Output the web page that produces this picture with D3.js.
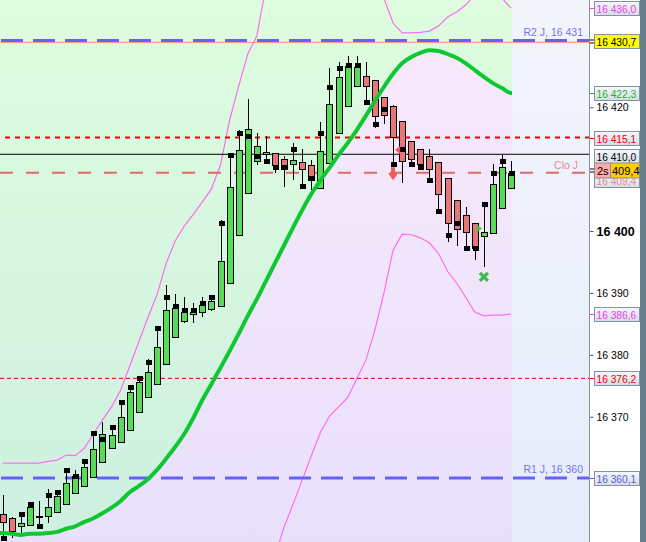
<!DOCTYPE html>
<html>
<head>
<meta charset="utf-8">
<title>Intraday candles</title>
<script src="https://d3js.org/d3.v7.min.js"></script>
<style>
  body { margin: 0; background: #ffffff; }
  svg { display: block; font-family: "Liberation Sans", Arial, sans-serif; }
</style>
</head>
<body>
<svg id="chart" width="646" height="542"></svg>
<script>
// ---- data ----
var candleOpen = [16354.3, 16353.6, 16352.3, 16352.5, 16353.9, 16354.0, 16354.6, 16355.9, 16357.7, 16358.8,
  16360.3, 16362.7, 16364.9, 16365.9, 16367.9, 16370.8, 16373.2, 16375.3, 16378.4, 16382.9,
  16385.5, 16386.6, 16386.8, 16387.4, 16388.0, 16391.6, 16399.4, 16406.1, 16411.3, 16412.4,
  16412.6, 16411.6, 16410.8, 16411.1, 16410.7, 16406.9, 16411.0, 16415.8, 16420.2, 16423.4,
  16425.0, 16424.4, 16421.6, 16420.2, 16417.8, 16414.5, 16413.2, 16412.1, 16411.1, 16408.6,
  16405.0, 16402.6, 16401.3, 16399.2, 16399.7, 16403.7, 16406.9];
var candleHigh = [16357.4, 16353.8, 16354.4, 16356.2, 16356.4, 16358.3, 16358.0, 16361.7, 16361.4, 16363.2,
  16367.5, 16369.1, 16368.7, 16372.7, 16375.1, 16376.6, 16379.3, 16384.5, 16391.3, 16389.8,
  16389.3, 16388.4, 16389.3, 16389.7, 16401.8, 16412.3, 16416.3, 16421.3, 16415.8, 16415.3,
  16412.6, 16412.1, 16414.2, 16413.2, 16411.5, 16417.6, 16426.3, 16427.3, 16428.3, 16428.3,
  16427.3, 16424.4, 16421.6, 16420.4, 16417.8, 16414.5, 16413.2, 16413.2, 16411.1, 16408.6,
  16405.0, 16403.9, 16401.3, 16404.4, 16410.8, 16412.3, 16411.3];
var candleLow = [16350.4, 16350.4, 16351.2, 16352.5, 16352.2, 16352.8, 16354.6, 16355.9, 16357.7, 16358.8,
  16360.3, 16362.7, 16364.9, 16365.9, 16367.9, 16370.8, 16373.2, 16375.3, 16378.4, 16382.9,
  16385.1, 16385.1, 16386.1, 16387.1, 16388.0, 16391.6, 16399.4, 16406.1, 16410.7, 16411.3,
  16409.4, 16407.1, 16408.2, 16407.3, 16406.6, 16406.9, 16411.0, 16415.8, 16420.2, 16423.4,
  16420.8, 16416.6, 16417.3, 16410.8, 16407.8, 16410.3, 16409.9, 16407.8, 16402.7, 16398.2,
  16397.6, 16397.3, 16395.3, 16394.2, 16399.7, 16403.7, 16406.9];
var candleClose = [16353.0, 16351.5, 16352.8, 16355.4, 16354.0, 16355.4, 16357.2, 16359.3, 16360.4, 16361.9,
  16364.8, 16367.2, 16367.0, 16370.0, 16374.0, 16375.6, 16377.2, 16381.3, 16387.2, 16387.6,
  16386.9, 16386.9, 16388.0, 16388.7, 16395.2, 16407.1, 16413.1, 16416.5, 16413.7, 16412.8,
  16410.7, 16410.0, 16411.5, 16410.0, 16408.2, 16412.9, 16420.5, 16424.9, 16426.7, 16426.5,
  16423.4, 16418.6, 16418.7, 16415.2, 16411.3, 16411.6, 16410.8, 16410.0, 16406.0, 16401.3,
  16400.3, 16399.8, 16397.3, 16399.8, 16407.6, 16410.3, 16409.4];
// black square markers (second indicator), null = none
var squareMarks = [16350.4, null, 16354.3, 16355.9, 16352.3, 16357.4, 16357.8, 16361.4, 16360.4, 16362.8,
  16367.4, 16366.4, 16368.3, 16372.4, 16374.8, 16376.3, 16378.8, 16384.3, 16389.3, 16387.9,
  16387.2, 16387.2, 16388.4, 16389.3, 16401.3, 16412.3, 16415.8, 16415.3, 16412.1, 16411.3,
  16410.3, 16410.3, 16413.2, 16407.3, 16408.6, 16415.8, 16423.3, 16426.3, 16426.8, 16426.8,
  16420.8, 16417.3, 16419.7, 16410.8, 16413.2, 16410.8, 16410.3, 16408.2, 16403.2, 16399.4,
  16401.3, 16397.3, 16397.3, 16404.4, 16409.4, 16411.3, 16409.4];
var maLine = [16351.2, 16351.1, 16350.9, 16351.1, 16351.1, 16351.2, 16351.4, 16351.9, 16352.3, 16353.0,
  16353.6, 16354.4, 16355.3, 16356.4, 16357.8, 16358.8, 16359.9, 16361.4, 16363.2, 16365.1,
  16367.2, 16369.8, 16372.7, 16375.3, 16377.9, 16380.6, 16383.4, 16386.3, 16389.0, 16391.9,
  16394.8, 16397.7, 16400.6, 16403.4, 16406.0, 16408.2, 16410.2, 16412.3, 16414.2, 16416.3,
  16418.6, 16421.0, 16423.3, 16425.4, 16427.1, 16428.1, 16428.8, 16429.2, 16429.1, 16428.6,
  16428.0, 16427.1, 16426.0, 16424.9, 16423.9, 16423.1, 16422.3];
var upperBand = [16362.5, 16362.5, 16362.5, 16362.5, 16362.5, 16362.8, 16363.0, 16363.8, 16363.7, 16364.9,
  16367.2, 16369.5, 16371.6, 16374.3, 16378.2, 16382.1, 16386.0, 16389.7, 16394.7, 16398.4,
  16400.8, 16402.7, 16404.7, 16406.8, 16410.7, 16417.9, 16423.4, 16428.6, 16431.5, 16439.5,
  16444.0, 16447.0, 16449.0, 16450.0, 16450.0, 16449.0, 16448.0, 16446.0, 16444.0, 16442.0,
  16440.5, 16439.0, 16437.6, 16433.6, 16432.0, 16432.0, 16432.1, 16432.3, 16433.1, 16434.6,
  16435.4, 16436.5, 16438.2, 16438.8, 16438.6, 16437.6, 16436.0];
var lowerBand = [16339.9, 16339.8, 16339.6, 16339.6, 16339.7, 16339.6, 16339.8, 16340.0, 16340.9, 16341.1,
  16340.0, 16339.3, 16339.0, 16338.5, 16337.4, 16335.5, 16333.8, 16333.1, 16331.7, 16331.8,
  16333.6, 16336.9, 16340.7, 16343.8, 16345.1, 16343.3, 16343.4, 16344.0, 16346.5, 16346.0,
  16347.5, 16352.2, 16355.9, 16359.8, 16363.7, 16367.5, 16370.1, 16371.6, 16373.1, 16376.1,
  16379.1, 16384.0, 16390.0, 16396.9, 16399.5, 16399.4, 16398.9, 16398.1, 16396.4, 16393.5,
  16391.6, 16389.3, 16386.9, 16386.3, 16386.4, 16386.4, 16386.6];

// signals: candle index + price
var sellArrow = { i: 43, v: 16410.3 };
var sellFlag = { i: 44, v: 16413.1 };
var buyFlag = { i: 53, v: 16400.4 };
var buyCross = { i: 53, v: 16392.6 };

// horizontal levels
var levelR2 = 16430.8, levelHigh = 16430.5, levelRed = 16415.1, levelBlack = 16412.4,
    levelClo = 16409.4, levelLowRed = 16376.2, levelR1 = 16360.1;

var tickValues = [16420, 16400, 16390, 16380, 16370];
var tagValues = [16436.0, 16430.7, 16422.3, 16415.1, 16410.0, 16409.4, 16386.6, 16376.2, 16360.1];
var lastPrice = 16409.4;

// ---- drawing ----
var W = 646, H = 542, axisX = 589.5, dataRight = 512;
var svg = d3.select("#chart");

var yScale = d3.scaleLinear().domain([16360.1, 16430.7]).range([478, 41]);
var xScale = d3.scaleLinear().domain([0, candleOpen.length - 1]).range([2.6, 511.1]);

var fr = d3.formatLocale({ decimal: ",", thousands: " ", grouping: [3], currency: ["", ""] });
var fmtTick = fr.format(",.0f"), fmtTag = fr.format(",.1f");

var defs = svg.append("defs");
function vGrad(id, top, bottom, user) {
  var g = defs.append("linearGradient").attr("id", id)
    .attr("x1", 0).attr("y1", 0).attr("x2", 0);
  if (user) g.attr("gradientUnits", "userSpaceOnUse").attr("y2", H);
  else g.attr("y2", 1);
  g.append("stop").attr("offset", "0%").attr("stop-color", top);
  g.append("stop").attr("offset", "100%").attr("stop-color", bottom);
}
vGrad("bgUp", "#defcde", "#cef0e1", true);
vGrad("bgDown", "#f9eafb", "#e9e0fc", true);
vGrad("bgFuture", "#f3f5fd", "#e6ecfa", true);
vGrad("tagBg", "#f6f8fb", "#d5dce6", false);

defs.append("clipPath").attr("id", "plotClip")
  .append("rect").attr("x", 0).attr("y", 0).attr("width", axisX).attr("height", H);

svg.append("rect").attr("width", W).attr("height", H).attr("fill", "#ffffff");

var plot = svg.append("g").attr("clip-path", "url(#plotClip)");

// background split by the moving average
var maPts = [{ x: 0, v: maLine[0] }].concat(maLine.map(function(v, i) {
  return { x: xScale(i), v: v };
}));
maPts.push({ x: dataRight, v: maLine[maLine.length - 1] });

plot.append("path").datum(maPts)
  .attr("fill", "url(#bgDown)")
  .attr("d", d3.area().curve(d3.curveMonotoneX)
    .x(function(d) { return d.x; })
    .y0(function(d) { return yScale(d.v); }).y1(H));
plot.append("path").datum(maPts)
  .attr("fill", "url(#bgUp)")
  .attr("d", d3.area().curve(d3.curveMonotoneX)
    .x(function(d) { return d.x; })
    .y0(0).y1(function(d) { return yScale(d.v); }));
plot.append("rect").attr("x", dataRight).attr("y", 0)
  .attr("width", axisX - dataRight).attr("height", H).attr("fill", "url(#bgFuture)");

// bands
var bandLine = d3.line().x(function(d, i) { return xScale(i); }).y(function(d) { return yScale(d); });
[upperBand, lowerBand].forEach(function(b) {
  plot.append("path").datum(b).attr("d", bandLine)
    .attr("fill", "none").attr("stroke", "#ff6cf2").attr("stroke-width", 1.2);
});

// horizontal levels
function hLine(v, color, width, dash, offset, x1) {
  var y = yScale(v);
  plot.append("line").attr("x1", x1 || 0).attr("x2", axisX)
    .attr("y1", y).attr("y2", y)
    .attr("stroke", color).attr("stroke-width", width)
    .attr("stroke-dasharray", dash || null)
    .attr("stroke-dashoffset", offset || 0);
}
hLine(levelHigh, "#ff8c7c", 1);
hLine(levelR2, "#6464f4", 3, "22,10", 0, 1);
hLine(levelRed, "#ee0000", 2, "5,5", 5);
hLine(levelBlack, "#000000", 1);
hLine(levelClo, "#e06a6a", 2, "13,13", 0);
hLine(levelLowRed, "#e00000", 1, "4,3", 0);
hLine(levelR1, "#6464f4", 3, "22,10", 0, 1);

plot.append("text").attr("x", 583).attr("y", yScale(levelR2) - 4).attr("text-anchor", "end")
  .attr("font-size", 10.5).attr("fill", "#7474ec").text("R2 J, 16 431");
plot.append("text").attr("x", 583).attr("y", yScale(levelR1) - 5).attr("text-anchor", "end")
  .attr("font-size", 10.5).attr("fill", "#7474ec").text("R1 J, 16 360");
plot.append("text").attr("x", 578).attr("y", yScale(levelClo) - 4).attr("text-anchor", "end")
  .attr("font-size", 10.5).attr("fill", "#ec8a8a").text("Clo J");

// candles
var candles = plot.append("g").attr("shape-rendering", "crispEdges");
candleOpen.forEach(function(o, i) {
  var c = candleClose[i];
  var cx = Math.round(xScale(i));
  candles.append("line")
    .attr("x1", cx + 0.5).attr("x2", cx + 0.5)
    .attr("y1", yScale(candleHigh[i])).attr("y2", yScale(candleLow[i]))
    .attr("stroke", "#000").attr("stroke-width", 1);
  var top = yScale(Math.max(o, c)), bot = yScale(Math.min(o, c));
  candles.append("rect")
    .attr("x", cx - 2.5).attr("y", Math.round(top) + 0.5)
    .attr("width", 6).attr("height", Math.max(1, Math.round(bot - top)))
    .attr("fill", c >= o ? "#56dc56" : "#e87676")
    .attr("stroke", "#000").attr("stroke-width", 1);
});
squareMarks.forEach(function(v, i) {
  if (v === null) return;
  var cx = Math.round(xScale(i));
  candles.append("rect")
    .attr("x", cx - 2).attr("y", Math.round(yScale(v)) - 2)
    .attr("width", 6).attr("height", 5).attr("fill", "#000");
});

// moving average
plot.append("path").datum(maPts)
  .attr("fill", "none").attr("stroke", "#0ec832").attr("stroke-width", 4)
  .attr("stroke-linejoin", "round")
  .attr("d", d3.line().curve(d3.curveMonotoneX)
    .x(function(d) { return d.x; }).y(function(d) { return yScale(d.v); }));

// signals
var ax = xScale(sellArrow.i), ay = yScale(sellArrow.v);
plot.append("path").attr("fill", "#ee5a5a")
  .attr("d", "M" + (ax - 2) + "," + ay + "h4v6h3l-5,7l-5,-7h3z");
var fx = xScale(sellFlag.i), fy = yScale(sellFlag.v);
plot.append("path").attr("fill", "#ee5a5a")
  .attr("d", "M" + (fx - 7) + "," + fy + "l5,-4v8z");
var bx = xScale(buyFlag.i), by = yScale(buyFlag.v);
plot.append("path").attr("fill", "#3cc83c")
  .attr("d", "M" + (bx - 2) + "," + by + "l-5,-4v8z");
var kx = xScale(buyCross.i), ky = yScale(buyCross.v);
plot.append("path").attr("stroke", "#3cba50").attr("stroke-width", 3.2).attr("fill", "none")
  .attr("d", "M" + (kx - 4) + "," + (ky - 4) + "l8,8M" + (kx + 4) + "," + (ky - 4) + "l-8,8");

// right axis
var axisG = svg.append("g").attr("transform", "translate(" + axisX + ",0)")
  .call(d3.axisRight(yScale).tickValues(tickValues).tickSize(4).tickPadding(3).tickFormat(fmtTick));
axisG.select(".domain").remove();
axisG.selectAll(".tick line").attr("stroke", "#556");
axisG.selectAll(".tick text").attr("fill", "#000")
  .attr("font-family", "Liberation Sans, Arial, sans-serif")
  .attr("font-weight", function(d) { return d === 16400 ? "bold" : null; })
  .attr("font-size", function(d) { return d === 16400 ? 12.5 : 10.5; });
svg.append("line").attr("x1", axisX).attr("x2", axisX).attr("y1", 0).attr("y2", H)
  .attr("stroke", "#8494a0").attr("stroke-width", 1);
svg.append("rect").attr("x", 640).attr("y", 0).attr("width", 6).attr("height", H).attr("fill", "#687c89");

// price tags
var tagStyle = [
  { color: "#ee3cee", bg: "url(#tagBg)", dy: 0, tick: "#ee3cee" },
  { color: "#000000", bg: "#ffff00", dy: 0, tick: "#000", dbl: true },
  { color: "#16b816", bg: "url(#tagBg)", dy: 0, tick: "#16b816" },
  { color: "#ee0000", bg: "url(#tagBg)", dy: 0, tick: "#ee0000" },
  { color: "#000000", bg: "url(#tagBg)", dy: -13, tick: null },
  { color: "#ec8a8a", bg: "url(#tagBg)", dy: 7, tick: null },
  { color: "#ee3cee", bg: "url(#tagBg)", dy: 0, tick: "#ee3cee" },
  { color: "#ee0000", bg: "url(#tagBg)", dy: 0, tick: "#ee0000" },
  { color: "#5a5ae0", bg: "url(#tagBg)", dy: 0, tick: "#5a5ae0" }
];
var tags = svg.append("g");
tagValues.forEach(function(v, k) {
  var s = tagStyle[k];
  var cy = Math.round(yScale(v) + s.dy) + 0.5;
  if (s.tick) {
    if (s.dbl) {
      tags.append("line").attr("x1", 590).attr("x2", 594).attr("y1", cy - 1.5).attr("y2", cy - 1.5).attr("stroke", s.tick);
      tags.append("line").attr("x1", 590).attr("x2", 594).attr("y1", cy + 1.5).attr("y2", cy + 1.5).attr("stroke", s.tick);
    } else {
      tags.append("line").attr("x1", 590).attr("x2", 594).attr("y1", cy).attr("y2", cy).attr("stroke", s.tick);
    }
  }
  tags.append("rect").attr("x", 594.5).attr("y", cy - 7).attr("width", 45).attr("height", 14)
    .attr("fill", s.bg).attr("stroke", "#8393a0");
  tags.append("text").attr("x", 596.5).attr("y", cy + 4).attr("font-size", 10.2)
    .attr("fill", s.color).text(fmtTag(v));
});

// last price tag
var ly = Math.round(yScale(lastPrice)) - 2.5;
tags.append("line").attr("x1", 590).attr("x2", 594).attr("y1", ly - 1.5).attr("y2", ly - 1.5).attr("stroke", "#000");
tags.append("line").attr("x1", 590).attr("x2", 594).attr("y1", ly + 1.5).attr("y2", ly + 1.5).attr("stroke", "#000");
tags.append("rect").attr("x", 594.5).attr("y", ly - 7.5).attr("width", 16).attr("height", 15)
  .attr("fill", "#ffa8a8").attr("stroke", "#8393a0");
tags.append("rect").attr("x", 610.5).attr("y", ly - 7.5).attr("width", 29).attr("height", 15)
  .attr("fill", "#ffcc00").attr("stroke", "#8393a0");
tags.append("text").attr("x", 597).attr("y", ly + 4.5).attr("font-size", 11).attr("fill", "#000").text("2s");
tags.append("text").attr("x", 612).attr("y", ly + 4.5).attr("font-size", 11).attr("fill", "#000")
  .text(fmtTag(lastPrice).replace(/^16 /, ""));
</script>
</body>
</html>
